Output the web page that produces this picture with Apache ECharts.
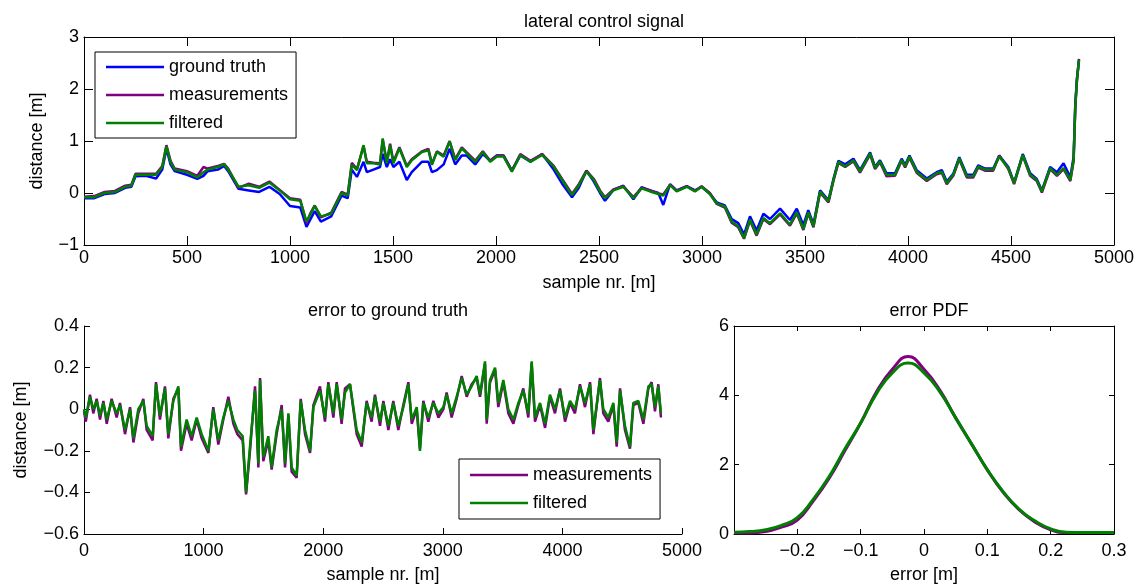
<!DOCTYPE html>
<html>
<head>
<meta charset="utf-8">
<script src="https://cdn.jsdelivr.net/npm/echarts/dist/echarts.min.js"></script>
<style>
html,body{margin:0;padding:0;background:#fff;}
#chart{width:1145px;height:587px;}
</style>
</head>
<body>
<div id="chart"></div>
<script>
// ---------- top panel: lateral control signal ----------
const topX = [
  0,50,100,150,200,230,250,300,350,380,
  400,420,440,500,550,580,600,650,680,700,
  750,800,850,900,950,1000,1050,1080,1100,1120,
  1150,1200,1250,1280,1300,1325,1357,1373,1405,1437,
  1450,1470,1486,1502,1531,1567,1591,1640,1672,1689,
  1713,1746,1775,1802,1834,1858,1899,1936,1972,2004,
  2037,2077,2118,2167,2224,2280,2321,2369,2402,2439,
  2475,2505,2529,2570,2618,2667,2707,2748,2788,2812,
  2845,2877,2926,2966,2998,3038,3071,3111,3144,3176,
  3204,3233,3265,3298,3330,3379,3427,3460,3492,3516,
  3541,3573,3614,3638,3662,3695,3735,3767,3816,3840,
  3864,3896,3937,3969,3986,4007,4042,4091,4139,4164,
  4188,4220,4249,4285,4317,4341,4374,4414,4443,4487,
  4515,4557,4593,4625,4650,4690,4723,4755,4788,4804,
  4812,4820,4830
];
const groundTruth = [
  -0.1,-0.1,-0.02,0.0,0.1,0.12,0.32,0.33,0.28,0.45,
  0.85,0.55,0.42,0.35,0.27,0.33,0.42,0.45,0.52,0.42,
  0.08,0.05,0.02,0.12,-0.02,-0.25,-0.28,-0.65,-0.5,-0.35,
  -0.55,-0.45,-0.05,-0.1,0.45,0.31,0.6,0.4,0.45,0.5,
  0.75,0.5,0.65,0.5,0.6,0.25,0.4,0.6,0.6,0.4,
  0.44,0.55,0.85,0.55,0.72,0.72,0.55,0.75,0.62,0.72,
  0.72,0.43,0.72,0.6,0.75,0.45,0.18,-0.08,0.1,0.43,
  0.22,0.0,-0.15,0.06,0.14,-0.12,0.11,0.05,0.0,-0.23,
  0.17,0.05,0.13,0.05,0.12,-0.01,-0.18,-0.24,-0.5,-0.58,
  -0.8,-0.45,-0.72,-0.4,-0.5,-0.3,-0.52,-0.3,-0.62,-0.33,
  -0.6,0.05,-0.14,0.27,0.62,0.55,0.66,0.44,0.78,0.5,
  0.63,0.38,0.38,0.66,0.54,0.72,0.44,0.28,0.4,0.44,
  0.22,0.37,0.69,0.35,0.35,0.53,0.47,0.47,0.72,0.5,
  0.2,0.75,0.38,0.27,0.05,0.5,0.4,0.57,0.3,0.7,
  1.7,2.2,2.55
];
const measurements = [
  -0.07,-0.06,0.02,0.04,0.14,0.16,0.37,0.37,0.37,0.52,
  0.92,0.62,0.47,0.42,0.33,0.5,0.47,0.52,0.56,0.47,
  0.1,0.18,0.12,0.22,0.06,-0.1,-0.13,-0.58,-0.38,-0.24,
  -0.47,-0.38,0.02,-0.03,0.58,0.46,0.9,0.6,0.58,0.57,
  1.02,0.6,0.95,0.6,0.88,0.52,0.65,0.8,0.85,0.56,
  0.8,0.72,1.0,0.65,0.88,0.78,0.62,0.8,0.62,0.72,
  0.72,0.43,0.75,0.62,0.75,0.52,0.27,-0.02,0.17,0.43,
  0.27,0.05,-0.08,0.07,0.13,-0.08,0.1,0.05,-0.01,-0.03,
  0.16,0.04,0.13,0.04,0.13,0.0,-0.21,-0.28,-0.57,-0.66,
  -0.88,-0.53,-0.82,-0.5,-0.6,-0.41,-0.63,-0.39,-0.71,-0.39,
  -0.66,0.01,-0.18,0.23,0.58,0.5,0.61,0.39,0.74,0.46,
  0.59,0.32,0.33,0.62,0.49,0.68,0.39,0.23,0.36,0.39,
  0.17,0.33,0.65,0.3,0.3,0.49,0.43,0.43,0.72,0.46,
  0.17,0.72,0.33,0.23,0.01,0.46,0.33,0.46,0.23,0.62,
  1.64,2.15,2.58
];
const filtered = [
  -0.08,-0.08,0.0,0.02,0.12,0.14,0.35,0.35,0.35,0.5,
  0.9,0.6,0.45,0.4,0.3,0.4,0.45,0.5,0.55,0.45,
  0.12,0.15,0.1,0.2,0.05,-0.12,-0.15,-0.55,-0.4,-0.25,
  -0.45,-0.4,0.0,-0.05,0.54,0.44,0.92,0.57,0.57,0.55,
  1.05,0.57,0.92,0.57,0.86,0.5,0.63,0.79,0.82,0.54,
  0.79,0.7,0.99,0.63,0.86,0.76,0.6,0.79,0.6,0.7,
  0.7,0.41,0.73,0.6,0.73,0.51,0.25,-0.04,0.15,0.41,
  0.25,0.03,-0.1,0.05,0.12,-0.1,0.09,0.03,-0.02,-0.05,
  0.15,0.03,0.12,0.03,0.12,-0.02,-0.2,-0.26,-0.55,-0.64,
  -0.87,-0.51,-0.8,-0.48,-0.58,-0.39,-0.61,-0.37,-0.69,-0.37,
  -0.64,0.03,-0.16,0.25,0.6,0.51,0.63,0.41,0.76,0.48,
  0.61,0.35,0.35,0.64,0.51,0.7,0.41,0.25,0.38,0.41,
  0.19,0.35,0.67,0.32,0.32,0.51,0.45,0.45,0.7,0.48,
  0.19,0.73,0.35,0.25,0.03,0.48,0.35,0.48,0.25,0.64,
  1.66,2.17,2.56
];

// ---------- bottom-left: error to ground truth ----------
const errX = [
  0,15,50,78,106,134,162,190,231,273,
  301,343,385,413,454,496,524,574,602,635,
  677,705,747,789,811,858,900,942,984,1040,
  1081,1123,1165,1207,1249,1282,1327,1355,1388,1430,
  1458,1472,1499,1541,1569,1611,1653,1681,1709,1736,
  1778,1812,1848,1890,1918,1973,2015,2043,2085,2113,
  2154,2182,2224,2280,2322,2363,2405,2433,2475,2503,
  2545,2586,2628,2670,2712,2740,2782,2809,2837,2879,
  2921,2963,3005,3032,3074,3116,3158,3200,3241,3283,
  3311,3353,3367,3395,3437,3464,3506,3548,3590,3632,
  3673,3715,3743,3771,3813,3855,3896,3938,3980,4022,
  4064,4105,4147,4189,4231,4259,4314,4342,4384,4426,
  4454,4482,4523,4565,4593,4635,4677,4719,4746,4774,
  4802,4824
];
const errMeasurements = [
  -0.01,-0.06,0.07,-0.02,0.05,-0.05,0.04,-0.07,0.05,-0.04,
  0.03,-0.12,0.01,-0.16,-0.02,0.05,-0.1,-0.15,0.13,-0.05,
  0.11,-0.14,0.05,0.1,-0.2,-0.07,-0.15,-0.05,-0.14,-0.21,
  0.01,-0.17,-0.05,0.06,-0.07,-0.12,-0.15,-0.41,-0.2,0.11,
  -0.28,0.15,-0.25,-0.15,-0.29,-0.12,0.02,-0.28,-0.03,-0.3,
  -0.33,0.05,-0.12,-0.21,0.02,0.11,-0.06,0.13,-0.04,0.13,
  -0.07,0.1,0.12,-0.12,-0.18,0.04,-0.06,0.07,-0.08,0.04,
  -0.1,0.04,-0.1,0.02,0.13,-0.07,0.0,-0.19,0.04,-0.06,
  0.04,-0.04,0.0,0.08,-0.04,0.05,0.16,0.06,0.12,0.15,
  0.06,0.22,-0.07,0.13,0.19,0.01,0.13,-0.02,-0.07,0.02,
  0.1,-0.04,0.22,-0.06,0.02,-0.09,0.06,-0.02,0.1,-0.06,
  0.03,-0.02,0.12,0.01,0.13,-0.12,0.15,-0.02,-0.06,0.02,
  -0.18,0.1,-0.1,-0.19,0.02,0.03,-0.07,0.1,0.13,-0.01,
  0.12,-0.04
];
const errFiltered = [
  0.0,-0.04,0.06,0.0,0.04,-0.03,0.03,-0.05,0.04,-0.02,
  0.02,-0.1,0.0,-0.14,0.0,0.04,-0.08,-0.13,0.12,-0.03,
  0.1,-0.12,0.04,0.11,-0.18,-0.05,-0.13,-0.04,-0.12,-0.2,
  0.0,-0.15,-0.04,0.04,-0.05,-0.1,-0.13,-0.4,-0.18,0.09,
  -0.26,0.14,-0.23,-0.13,-0.28,-0.1,0.0,-0.26,-0.02,-0.28,
  -0.32,0.04,-0.1,-0.2,0.01,0.09,-0.04,0.12,-0.02,0.12,
  -0.05,0.08,0.12,-0.1,-0.16,0.03,-0.04,0.06,-0.06,0.03,
  -0.08,0.03,-0.08,0.01,0.12,-0.05,0.01,-0.2,0.03,-0.04,
  0.03,-0.02,0.01,0.07,-0.02,0.06,0.15,0.07,0.11,0.16,
  0.07,0.23,-0.05,0.14,0.2,0.03,0.14,0.0,-0.05,0.03,
  0.09,-0.02,0.23,-0.04,0.03,-0.07,0.07,0.0,0.09,-0.04,
  0.04,0.0,0.11,0.03,0.12,-0.1,0.14,0.0,-0.04,0.03,
  -0.16,0.09,-0.08,-0.18,0.03,0.04,-0.05,0.11,0.12,0.01,
  0.11,-0.02
];

// ---------- bottom-right: error PDF ----------
const pdfX = [-0.3,-0.275,-0.25,-0.225,-0.2,-0.175,-0.15,-0.125,-0.1,-0.075,-0.05,-0.025,0,
              0.025,0.05,0.075,0.1,0.125,0.15,0.175,0.2,0.225,0.25,0.275,0.3];
const pdfMeasurements = [0.03,0.03,0.07,0.2,0.4,0.95,1.6,2.4,3.2,4.1,4.75,5.12,4.75,
                         4.15,3.35,2.6,1.85,1.2,0.7,0.35,0.12,0.04,0.04,0.04,0.04];
const pdfFiltered = [0.05,0.07,0.12,0.25,0.47,1.0,1.65,2.45,3.2,4.05,4.65,4.93,4.65,
                     4.1,3.35,2.6,1.85,1.22,0.72,0.38,0.15,0.05,0.04,0.04,0.04];

// ---------- styling ----------
const FONT = 'Liberation Sans, Arial, Helvetica, sans-serif';
const FS = 18;
const BLUE = '#0000ff', PURPLE = '#800080', GREEN = '#008000';

function fmt(v) {
  let s = Math.abs(v) < 1e-9 ? '0' : String(parseFloat(v.toFixed(2)));
  return s.replace('-', '\u2212');
}
function pairs(xs, ys) { return xs.map((x, i) => [x, ys[i]]); }

function axisBase(tickLen, showLabel) {
  return {
    type: 'value',
    axisLine: { show: true, onZero: false, lineStyle: { color: '#000', width: 1 } },
    axisTick: { show: true, inside: true, length: tickLen, lineStyle: { color: '#000', width: 1 } },
    axisLabel: { show: showLabel, color: '#000', fontFamily: FONT, fontSize: FS, formatter: fmt, margin: 5 },
    splitLine: { show: false },
    nameTextStyle: { color: '#000', fontFamily: FONT, fontSize: FS },
  };
}

const xAxes = [
  Object.assign(axisBase(9, true), { gridIndex: 0, min: 0, max: 5000, interval: 500, position: 'bottom',
    name: 'sample nr. [m]', nameLocation: 'middle', nameGap: 29 }),
  Object.assign(axisBase(9, false), { gridIndex: 0, min: 0, max: 5000, interval: 500, position: 'top' }),
  Object.assign(axisBase(6, true), { gridIndex: 1, min: 0, max: 5000, interval: 1000, position: 'bottom',
    name: 'sample nr. [m]', nameLocation: 'middle', nameGap: 32 }),
  Object.assign(axisBase(5, true), { gridIndex: 2, min: -0.3, max: 0.3, interval: 0.1, position: 'bottom',
    name: 'error [m]', nameLocation: 'middle', nameGap: 32 }),
  Object.assign(axisBase(5, false), { gridIndex: 2, min: -0.3, max: 0.3, interval: 0.1, position: 'top' }),
];
xAxes[0].axisLabel.margin = 4;
xAxes[2].axisLabel.margin = 8;
xAxes[3].axisLabel.margin = 8;
xAxes[3].axisLabel.showMinLabel = false;

const yAxes = [
  Object.assign(axisBase(9, true), { gridIndex: 0, min: -1, max: 3, interval: 1, position: 'left',
    name: 'distance [m]', nameLocation: 'middle', nameGap: 38 }),
  Object.assign(axisBase(9, false), { gridIndex: 0, min: -1, max: 3, interval: 1, position: 'right' }),
  Object.assign(axisBase(6, true), { gridIndex: 1, min: -0.6, max: 0.4, interval: 0.2, position: 'left',
    name: 'distance [m]', nameLocation: 'middle', nameGap: 54 }),
  Object.assign(axisBase(5, true), { gridIndex: 2, min: 0, max: 6, interval: 2, position: 'left' }),
  Object.assign(axisBase(5, false), { gridIndex: 2, min: 0, max: 6, interval: 2, position: 'right' }),
];

function lineSeries(name, color, xi, yi, data, width) {
  return {
    name: name, type: 'line', xAxisIndex: xi, yAxisIndex: yi, data: data,
    symbol: 'none', showSymbol: false, smooth: false, silent: true,
    lineStyle: { color: color, width: width }, itemStyle: { color: color },
    clip: true,
  };
}

const legendText = { color: '#000', fontFamily: FONT, fontSize: FS };

const option = {
  animation: false,
  backgroundColor: '#fff',
  title: [
    { text: 'lateral control signal', left: 599, top: 8, textAlign: 'center',
      textStyle: { color: '#000', fontFamily: FONT, fontSize: FS, fontWeight: 'normal' } },
    { text: 'error to ground truth', left: 383, top: 297, textAlign: 'center',
      textStyle: { color: '#000', fontFamily: FONT, fontSize: FS, fontWeight: 'normal' } },
    { text: 'error PDF', left: 924, top: 297, textAlign: 'center',
      textStyle: { color: '#000', fontFamily: FONT, fontSize: FS, fontWeight: 'normal' } },
  ],
  grid: [
    { left: 84, top: 37, width: 1030, height: 208, outerBoundsMode: 'none' },
    { left: 84, top: 326, width: 598, height: 208, outerBoundsMode: 'none' },
    { left: 734, top: 326, width: 380, height: 208, outerBoundsMode: 'none' },
  ],
  legend: [
    { data: ['ground truth', 'measurements', 'filtered'], orient: 'vertical', left: 95, top: 52,
      icon: 'rect', itemWidth: 58, itemHeight: 2.5, itemGap: 10, padding: [6, 8, 6, 11],
      backgroundColor: '#fff', borderColor: '#000', borderWidth: 1, borderRadius: 0,
      selectedMode: false, textStyle: legendText },
    { data: ['measurements', 'filtered'], orient: 'vertical', left: 459, top: 459,
      icon: 'rect', itemWidth: 58, itemHeight: 2.5, itemGap: 10, padding: [7, 8, 7, 11],
      backgroundColor: '#fff', borderColor: '#000', borderWidth: 1, borderRadius: 0,
      selectedMode: false, textStyle: legendText },
  ],
  xAxis: xAxes,
  yAxis: yAxes,
  series: [
    lineSeries('ground truth', BLUE, 0, 0, pairs(topX, groundTruth), 2.5),
    lineSeries('measurements', PURPLE, 0, 0, pairs(topX, measurements), 2.5),
    lineSeries('filtered', GREEN, 0, 0, pairs(topX, filtered), 2.5),
    lineSeries('measurements', PURPLE, 2, 2, pairs(errX, errMeasurements), 2.5),
    lineSeries('filtered', GREEN, 2, 2, pairs(errX, errFiltered), 2.5),
    Object.assign(lineSeries('measurements', PURPLE, 3, 3, pairs(pdfX, pdfMeasurements), 3), { smooth: true }),
    Object.assign(lineSeries('filtered', GREEN, 3, 3, pairs(pdfX, pdfFiltered), 3), { smooth: true }),
  ],
};

const chart = echarts.init(document.getElementById('chart'), null, { renderer: 'canvas' });
chart.setOption(option);
</script>
</body>
</html>
